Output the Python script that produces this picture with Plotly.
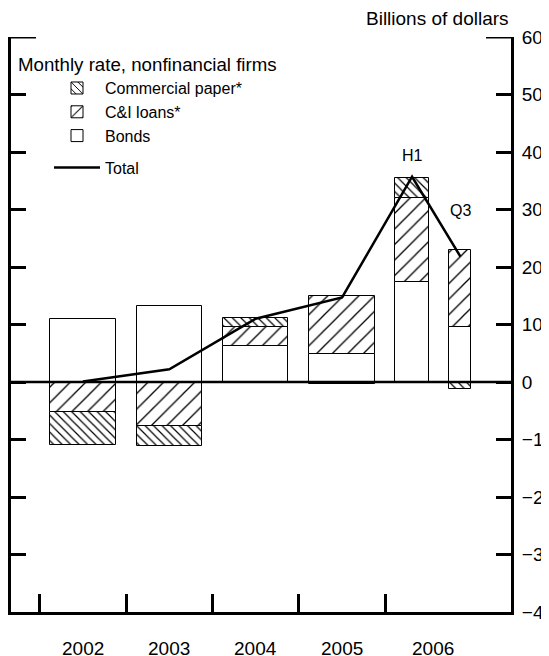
import plotly.graph_objects as go

# ---- data (billions of dollars, monthly rate) ----
periods = ["2002", "2003", "2004", "2005", "2006 H1", "2006 Q3"]
period_x = [2002.5, 2003.5, 2004.5, 2005.5, 2006.31, 2006.87]
bonds = [10.9, 13.2, 6.3, 4.9, 17.4, 9.6]
ci_loans = [-5.3, -7.7, 3.3, 10.1, 14.6, 13.4]
comm_paper = [-5.7, -3.5, 1.5, -0.3, 3.5, -1.2]
total = [0.1, 2.2, 11.0, 14.7, 35.7, 21.8]
year_labels = ["2002", "2003", "2004", "2005", "2006"]
year_label_x = [2002.5, 2003.5, 2004.5, 2005.5, 2006.55]
year_ticks = [2002, 2003, 2004, 2005, 2006]
y_ticks = [-40, -30, -20, -10, 0, 10, 20, 30, 40, 50, 60]

FONT = "Liberation Sans, Arial, sans-serif"
bar_w = [0.756, 0.756, 0.756, 0.756, 0.39, 0.255]

fig = go.Figure()

def bar(name, vals, shape, size, sol, rank):
    m = dict(color="white", line=dict(color="black", width=1))
    if shape:
        m["pattern"] = dict(shape=shape, size=size, solidity=sol, fgcolor="black",
                            bgcolor="white", fillmode="replace")
    fig.add_trace(go.Bar(x=period_x, y=vals, width=bar_w, name=name,
                         marker=m, legendrank=rank, legendgroup="bars"))

bar("Bonds", bonds, None, 0, 0, 3)
bar("C&I loans*", ci_loans, "/", 11, 0.12, 2)
bar("Commercial paper*", comm_paper, "\\", 6, 0.2, 1)

fig.add_trace(go.Scatter(x=period_x, y=total, mode="lines", name="Total",
                         line=dict(color="black", width=2.5),
                         legendrank=4, legendgroup="tot"))

annotations = []
for lab, xv in zip(year_labels, year_label_x):
    annotations.append(dict(x=xv, y=0, xref="x", yref="paper", text=lab,
                            showarrow=False, yanchor="middle", yshift=-36,
                            font=dict(size=19, color="black", family=FONT)))
annotations.append(dict(x=2006.31, y=39.4, xref="x", yref="y", text="H1",
                        showarrow=False, font=dict(size=16, color="black", family=FONT)))
annotations.append(dict(x=2006.87, y=29.8, xref="x", yref="y", text="Q3",
                        showarrow=False, font=dict(size=16, color="black", family=FONT)))
annotations.append(dict(x=1, y=1, xref="paper", yref="paper", text="Billions of dollars",
                        showarrow=False, xanchor="right", yanchor="middle", yshift=19,
                        font=dict(size=19, color="black", family=FONT)))

shapes = [
    dict(type="line", xref="paper", yref="y", x0=0, x1=1, y0=0, y1=0,
         line=dict(color="black", width=2.5), layer="above"),
    dict(type="line", xref="paper", yref="y", x0=0, x1=0.05, y0=60, y1=60,
         line=dict(color="black", width=3), layer="above"),
    dict(type="line", xref="paper", yref="y", x0=0.95, x1=1, y0=60, y1=60,
         line=dict(color="black", width=3), layer="above"),
]

# the page body has an 8px default margin, so the figure is sized to fit
fig.update_layout(
    template="none",
    width=541, height=648,
    margin=dict(l=3, r=38, t=29, b=44, autoexpand=False),
    paper_bgcolor="white", plot_bgcolor="white",
    barmode="relative", bargap=0,
    font=dict(family=FONT, color="black", size=16),
    showlegend=True,
    legend=dict(x=0.01, y=0.983, xanchor="left", yanchor="top",
                bgcolor="rgba(0,0,0,0)", borderwidth=0,
                font=dict(size=16), traceorder="grouped", tracegroupgap=8,
                title=dict(text="Monthly rate, nonfinancial firms",
                           font=dict(size=18.7), side="top"),
                indentation=33, itemwidth=46),
    annotations=annotations,
    shapes=shapes,
    xaxis=dict(range=[2001.668, 2007.455], tickvals=year_ticks, showticklabels=False,
               ticks="inside", ticklen=18, tickwidth=3, tickcolor="black",
               showline=True, linewidth=3, linecolor="black", automargin=False,
               showgrid=False, zeroline=False, mirror=False),
    yaxis=dict(range=[-40, 60], tickvals=y_ticks, side="right",
               ticks="inside", ticklen=15, tickwidth=3, tickcolor="black",
               showline=True, linewidth=3, linecolor="black", mirror="ticks",
               showgrid=False, zeroline=False, automargin=False,
               tickfont=dict(size=19, color="black", family=FONT),
               ticklabelstandoff=4),
)

fig.write_html("out.html")
